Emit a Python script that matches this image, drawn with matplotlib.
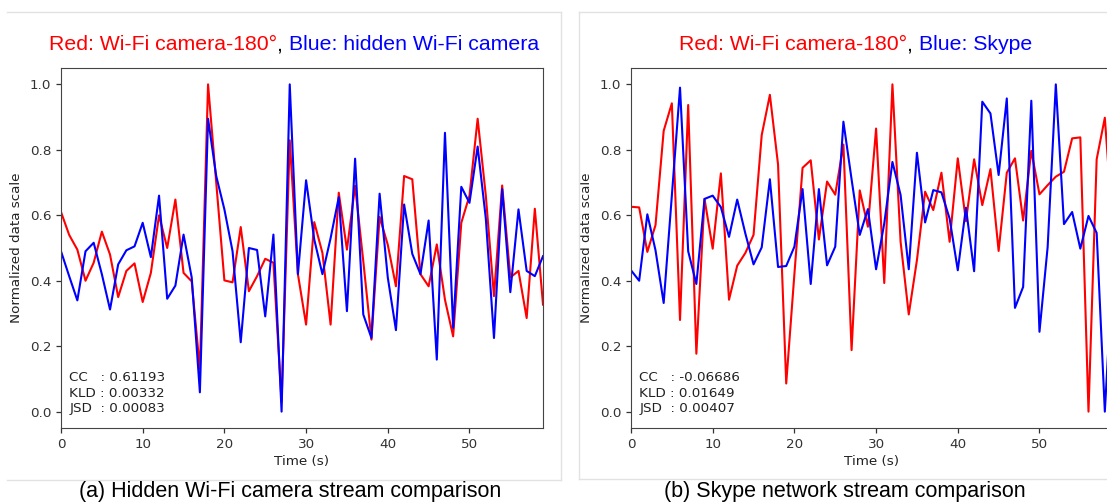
import matplotlib
matplotlib.use("Agg")
import matplotlib.pyplot as plt
from matplotlib.lines import Line2D

# time axis (seconds)
t = list(range(60))

# (a) hidden Wi-Fi camera comparison
cam180_a = [0.61, 0.54, 0.495, 0.40, 0.455, 0.55, 0.48, 0.35, 0.43, 0.453,
            0.335, 0.424, 0.60, 0.50, 0.648, 0.424, 0.398, 0.13, 1.0, 0.70,
            0.401, 0.395, 0.564, 0.368, 0.414, 0.467, 0.455, 0.03, 0.829, 0.42,
            0.266, 0.579, 0.485, 0.266, 0.669, 0.495, 0.69, 0.46, 0.22, 0.595,
            0.51, 0.383, 0.72, 0.71, 0.42, 0.383, 0.511, 0.342, 0.23, 0.577,
            0.66, 0.895, 0.66, 0.353, 0.691, 0.41, 0.43, 0.286, 0.62, 0.327]
hidden_cam = [0.49, 0.414, 0.34, 0.49, 0.516, 0.42, 0.312, 0.45, 0.493, 0.505,
              0.577, 0.472, 0.66, 0.345, 0.385, 0.541, 0.41, 0.059, 0.895, 0.72,
              0.618, 0.49, 0.212, 0.50, 0.494, 0.291, 0.541, 0.0, 1.0, 0.42,
              0.707, 0.526, 0.42, 0.53, 0.655, 0.307, 0.773, 0.297, 0.225, 0.666,
              0.41, 0.249, 0.633, 0.482, 0.42, 0.584, 0.159, 0.852, 0.256, 0.687,
              0.638, 0.81, 0.59, 0.225, 0.68, 0.365, 0.618, 0.43, 0.414, 0.475]

# (b) Skype comparison
cam180_b = [0.626, 0.624, 0.488, 0.57, 0.858, 0.942, 0.28, 0.937, 0.177, 0.65,
            0.498, 0.728, 0.342, 0.446, 0.485, 0.54, 0.845, 0.968, 0.755, 0.086,
            0.42, 0.745, 0.768, 0.526, 0.703, 0.663, 0.816, 0.188, 0.676, 0.565,
            0.865, 0.393, 1.0, 0.519, 0.297, 0.463, 0.672, 0.616, 0.73, 0.519,
            0.774, 0.582, 0.771, 0.631, 0.741, 0.491, 0.73, 0.774, 0.584, 0.797,
            0.664, 0.692, 0.718, 0.733, 0.835, 0.838, 0.0, 0.771, 0.898, 0.55]
skype = [0.432, 0.40, 0.603, 0.493, 0.332, 0.66, 0.99, 0.49, 0.39, 0.65,
         0.66, 0.625, 0.534, 0.648, 0.544, 0.45, 0.502, 0.71, 0.442, 0.445,
         0.504, 0.68, 0.39, 0.68, 0.447, 0.504, 0.886, 0.71, 0.54, 0.619,
         0.435, 0.575, 0.763, 0.662, 0.435, 0.791, 0.578, 0.677, 0.67, 0.59,
         0.432, 0.623, 0.429, 0.947, 0.911, 0.723, 0.957, 0.317, 0.381, 0.95,
         0.244, 0.503, 1.0, 0.573, 0.61, 0.498, 0.598, 0.546, 0.0, 0.45]

stats_a = "CC   : 0.61193\nKLD : 0.00332\nJSD  : 0.00083"
stats_b = "CC   : -0.06686\nKLD : 0.01649\nJSD  : 0.00407"

W, H = 1107, 504
fig = plt.figure(figsize=(W / 100, H / 100), dpi=100)
fs = 9.7


def px_box(x0, y0, x1, y1):
    # pixel box (top-left origin) -> figure fraction rect
    return [x0 / W, 1 - y1 / H, (x1 - x0) / W, (y1 - y0) / H]


def panel(ax, red, blue, stats):
    ax.plot(t, red, color="red", lw=1.5)
    ax.plot(t, blue, color="blue", lw=1.5)
    ax.set_xlim(0, 59)
    ax.set_ylim(-0.05, 1.05)
    ax.set_xticks([0, 10, 20, 30, 40, 50])
    ax.set_yticks([0.0, 0.2, 0.4, 0.6, 0.8, 1.0])
    ax.tick_params(labelsize=fs, colors="#333333", width=0.9)
    for s in ax.spines.values():
        s.set_color("#444444")
    ax.set_xlabel("Time (s)", fontsize=fs, color="#222222", labelpad=3)
    ax.set_ylabel("Normalized data scale", fontsize=fs, color="#222222", labelpad=5)
    ax.text(0.017, 0.035, stats, transform=ax.transAxes, fontsize=fs,
            va="bottom", ha="left", color="#222222", linespacing=1.25)


ax1 = fig.add_axes(px_box(61, 68, 543, 428))
panel(ax1, cam180_a, hidden_cam, stats_a)
ax2 = fig.add_axes(px_box(631, 68, 1113, 428))
panel(ax2, cam180_b, skype, stats_b)

# light frames around the two sub-figures
frame = "#e2e2e2"
for xs, ys in [([7, 561], [12, 12]), ([7, 561], [480, 480]), ([561, 561], [12, 480]),
               ([579, 1107], [12, 12]), ([579, 1107], [479, 479]), ([579, 579], [12, 479])]:
    fig.add_artist(Line2D([x / W for x in xs], [1 - y / H for y in ys],
                          color=frame, lw=1.0, transform=fig.transFigure))

# coloured titles
fig.canvas.draw()
renderer = fig.canvas.get_renderer()


def colored_title(x_px, y_px, parts):
    x = x_px
    for txt, col in parts:
        tt = fig.text(x / W, 1 - y_px / H, txt, color=col, va="center", ha="left",
                      family="Liberation Sans", fontsize=15.3)
        bb = tt.get_window_extent(renderer=renderer)
        x += bb.width


colored_title(49, 45, [("Red: Wi-Fi camera-180°", "red"), (", ", "black"),
                       ("Blue: hidden Wi-Fi camera", "blue")])
colored_title(679, 45, [("Red: Wi-Fi camera-180°", "red"), (", ", "black"),
                        ("Blue: Skype", "blue")])

# captions
fig.text(290 / W, 1 - 492 / H, "(a) Hidden Wi-Fi camera stream comparison",
         ha="center", va="center", family="Liberation Sans", fontsize=15.5)
fig.text(845 / W, 1 - 492 / H, "(b) Skype network stream comparison",
         ha="center", va="center", family="Liberation Sans", fontsize=15.5)

fig.savefig("out.png", dpi=100, facecolor="white")
